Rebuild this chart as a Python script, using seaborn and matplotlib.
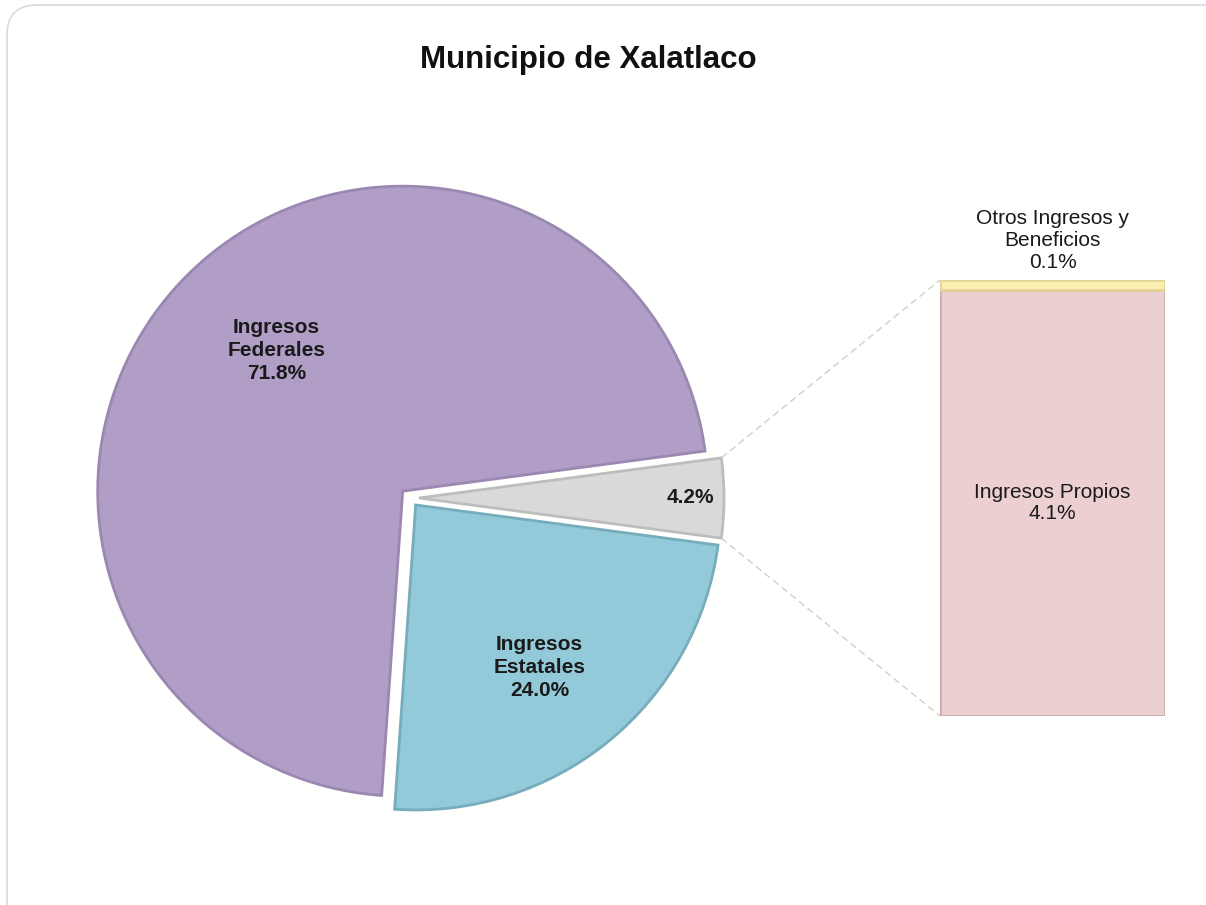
import numpy as np
import matplotlib
matplotlib.use("Agg")
import matplotlib.pyplot as plt
from matplotlib.patches import FancyBboxPatch
import seaborn as sns

# ---- data ----
pie_labels = ["Ingresos\nFederales", "Ingresos\nEstatales", ""]
pie_values = [71.8, 24.0, 4.2]
bar_labels = ["Ingresos Propios", "Otros Ingresos y\nBeneficios"]
bar_values = [4.1, 0.1]
title = "Municipio de Xalatlaco"

sns.set_theme(style="white")
plt.rcParams["font.family"] = ["Liberation Sans", "DejaVu Sans"]

W, H = 1206, 905
fig = plt.figure(figsize=(W / 100, H / 100), dpi=100, facecolor="white")

ax = fig.add_axes([0, 0, 1, 1])
ax.set_xlim(0, W)
ax.set_ylim(0, H)
ax.set_aspect("equal")
ax.axis("off")
ax.patch.set_alpha(0)

# rounded frame (drawn inside the full-figure axes, behind everything)
frame = FancyBboxPatch((7, -40), W + 40, H + 35,
                       boxstyle="round,pad=0,rounding_size=30",
                       facecolor="#fffffd", edgecolor="#d9d9d9",
                       linewidth=1.2, zorder=-10)
ax.add_patch(frame)

pie_colors = ["#b09ec6", "#93cad9", "#d9d9d9"]
edge_colors = ["#9a88b2", "#76acbb", "#bdbdbd"]
cx, cy, R = 410, H - 498, 305
start = 360 * pie_values[2] / sum(pie_values) / 2
wedges, _ = ax.pie(pie_values, colors=pie_colors, startangle=start,
                   counterclock=True, radius=R, center=(cx, cy),
                   explode=[10, 9, 9], frame=True,
                   wedgeprops=dict(linewidth=2.0))
for w, ec in zip(wedges, edge_colors):
    w.set_edgecolor(ec)
ax.set_xlim(0, W)
ax.set_ylim(0, H)
ax.axis("off")

label_r = [0.62, 0.67, 0.89]
label_dt = [-5.0, -2.0, 0.0]
for w, lab, v, r, dt in zip(wedges, pie_labels, pie_values, label_r, label_dt):
    th = np.deg2rad((w.theta1 + w.theta2) / 2 + dt)
    wx, wy = w.center
    txt = (lab + "\n" if lab else "") + f"{v:.1f}%"
    ax.text(wx + r * R * np.cos(th), wy + r * R * np.sin(th), txt,
            ha="center", va="center", fontsize=15, fontweight="bold",
            color="#1a1a1a", linespacing=1.26)

# ---- bar of pie ----
bx0, bx1, by_top, by_bot = 940, 1165, 280, 716
bax = fig.add_axes([bx0 / W, (H - by_bot) / H, (bx1 - bx0) / W, (by_bot - by_top) / H])
bax.set_xlim(-0.5, 0.5)
bax.set_ylim(0, sum(bar_values))
bax.axis("off")
bax.patch.set_alpha(0)
bar_colors = ["#eccfd1", "#fbefb0"]
bar_edges = ["#c9aeb0", "#e2d49a"]
bottom = 0
for v, c, e in zip(bar_values, bar_colors, bar_edges):
    bax.bar(0, v, bottom=bottom, width=1.0, color=c, edgecolor=e, linewidth=2.0)
    bottom += v
bax.text(0, bar_values[0] * 0.5, f"{bar_labels[0]}\n{bar_values[0]:.1f}%",
         ha="center", va="center", fontsize=15, color="#1a1a1a", linespacing=1.15)
bax.text(0, sum(bar_values) + 0.385, f"{bar_labels[1]}\n{bar_values[1]:.1f}%",
         ha="center", va="center", fontsize=15, color="#1a1a1a", linespacing=1.2,
         clip_on=False)

# connector lines from grey wedge to bar
gw = wedges[2]
gx, gy = gw.center
for ang, ty in [(gw.theta2, H - by_top), (gw.theta1, H - by_bot)]:
    a = np.deg2rad(ang)
    ax.plot([gx + R * np.cos(a), bx0], [gy + R * np.sin(a), ty],
            ls=(0, (5, 3)), color="#cfcfcf", lw=1.0)

fig.text(588 / W, 1 - 60 / H, title, ha="center", va="center", fontsize=22.5,
         fontweight="bold", color="#111111")

fig.savefig("out.png", dpi=100, facecolor="white")
